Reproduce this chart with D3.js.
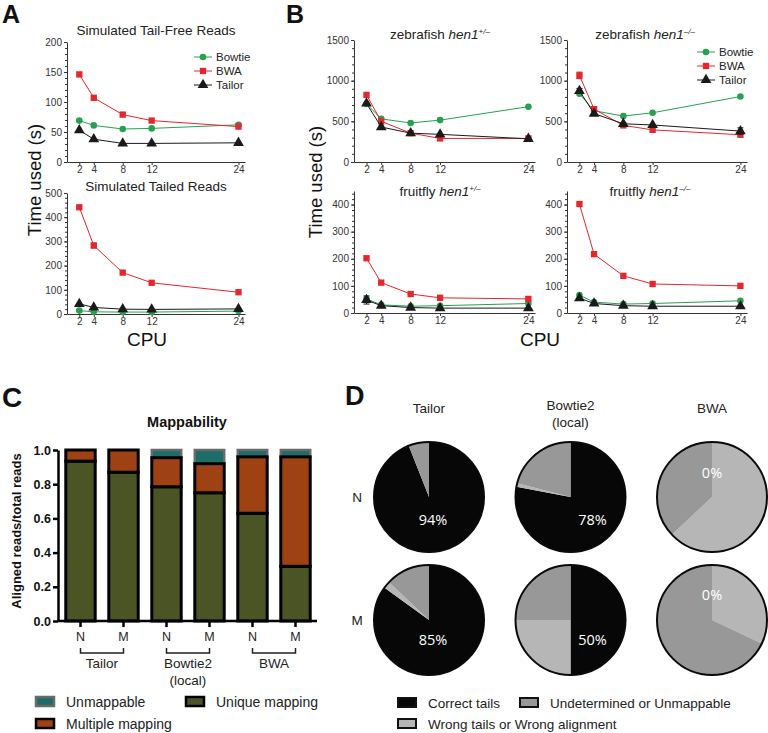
<!DOCTYPE html>
<html><head><meta charset="utf-8">
<script src="https://cdn.jsdelivr.net/npm/d3@7"></script>
<style>body{margin:0;background:#fff} svg{display:block;font-family:"Liberation Sans",Arial,Helvetica,sans-serif}</style>
</head><body><svg width="768" height="733"></svg>
<script>
// ---------------- DATA ----------------
const cpus = [2, 4, 8, 12, 24];
const lineTools = ["Bowtie", "BWA", "Tailor"];
// Panel A
const tailFreeBowtie = [69, 61, 55, 56, 62];
const tailFreeBWA    = [146, 107, 79, 69, 59];
const tailFreeTailor = [53, 38, 31, 31, 32];
const tailedBowtie   = [14, 9, 8, 8, 12];
const tailedBWA      = [441, 283, 171, 129, 90];
const tailedBWAErr   = [0, 10, 0, 0, 0];
const tailedTailor   = [42, 27, 20, 19, 21];
// Panel B
const zfHetBowtie = [715, 530, 480, 515, 680];
const zfHetBWA    = [825, 500, 355, 290, 290];
const zfHetTailor = [720, 430, 355, 340, 285];
const zfMutBowtie = [840, 630, 565, 605, 805];
const zfMutBWA    = [1065, 650, 450, 395, 335];
const zfMutBWAErr = [40, 0, 0, 0, 0];
const zfMutTailor = [875, 595, 470, 455, 380];
const zfMutTailorErr = [30, 0, 0, 0, 40];
const ffHetBowtie = [52, 30, 25, 27, 35];
const ffHetBWA    = [202, 112, 70, 56, 52];
const ffHetTailor = [48, 27, 20, 18, 18];
const ffHetTailorErr = [15, 0, 0, 0, 0];
const ffMutBowtie = [66, 40, 33, 35, 45];
const ffMutBWA    = [402, 217, 137, 107, 100];
const ffMutTailor = [55, 35, 27, 25, 25];
// Panel C
const mapSamples = ["N", "M", "N", "M", "N", "M"];
const mapGroups = ["Tailor", "Bowtie2", "BWA"];
const uniqueMapping   = [0.935, 0.87, 0.785, 0.75, 0.63, 0.32];
const multipleMapping = [0.065, 0.13, 0.17, 0.17, 0.33, 0.64];
const unmappable      = [0, 0, 0.045, 0.08, 0.04, 0.04];
const mapYTicks = [0, 0.2, 0.4, 0.6, 0.8, 1.0];
// Panel D (order: Tailor N, Bowtie2 N, BWA N, Tailor M, Bowtie2 M, BWA M)
const pieColumns = ["Tailor", "Bowtie2", "BWA"];
const pieRows = ["N", "M"];
const correctTails = [0.94, 0.78, 0, 0.85, 0.50, 0];
const wrongTails   = [0, 0.01, 0.63, 0.02, 0.25, 0.32];
const undetermined = [0.06, 0.21, 0.37, 0.13, 0.25, 0.68];
const pctLabels = ["94%", "78%", "0%", "85%", "50%", "0%"];

// ---------------- DRAW ----------------
const svg = d3.select("svg");
const seriesStyle = {
  Bowtie: {color: "#27a04f", symbol: d3.symbolCircle, size: 34},
  BWA:    {color: "#e5262d", symbol: d3.symbolSquare, size: 40},
  Tailor: {color: "#1a1a1a", symbol: d3.symbolTriangle, size: 50}
};

function panelLetter(t, x, y, size) {
  svg.append("text").attr("x", x).attr("y", y).attr("font-size", size)
    .attr("font-weight", "bold").attr("fill", "#111").text(t);
}

function styleAxis(a) {
  a.selectAll("path,line").attr("stroke", "#333").attr("stroke-width", 1);
  a.selectAll("text").attr("font-size", 10).attr("fill", "#333")
    .attr("font-family", '"Liberation Sans", Arial, sans-serif');
}

function lineChart(cfg) {
  const g = svg.append("g");
  const x = d3.scaleLinear().domain([0.3, 24.9]).range(cfg.xr);
  const y = d3.scaleLinear().domain([0, cfg.ymax]).range(cfg.yr);
  const minor = d3.range(0, cfg.ymax + 1e-6, cfg.minor);
  const mi = g.append("g").attr("transform", `translate(${cfg.xr[0]},0)`)
    .call(d3.axisLeft(y).tickValues(minor).tickSize(2).tickFormat(""));
  mi.select(".domain").remove();
  styleAxis(mi);
  const ya = g.append("g").attr("transform", `translate(${cfg.xr[0]},0)`)
    .call(d3.axisLeft(y).tickValues(cfg.yticks).tickFormat(d3.format("d")).tickSize(3).tickPadding(2).tickSizeOuter(0));
  styleAxis(ya);
  const xa = g.append("g").attr("transform", `translate(0,${cfg.yr[0]})`)
    .call(d3.axisBottom(x).tickValues(cpus).tickSize(3).tickPadding(1).tickSizeOuter(0));
  styleAxis(xa);

  cfg.series.forEach(s => {
    const st = seriesStyle[s.name];
    const pts = cpus.map((c, i) => ({c, v: s.values[i], e: s.err ? s.err[i] : 0}));
    g.append("path").datum(pts)
      .attr("d", d3.line().x(d => x(d.c)).y(d => y(d.v)))
      .attr("fill", "none").attr("stroke", st.color).attr("stroke-width", 1);
    const eb = pts.filter(d => d.e > 0);
    g.selectAll(null).data(eb).join("path")
      .attr("d", d => `M${x(d.c)},${y(d.v - d.e)}V${y(d.v + d.e)}M${x(d.c) - 3},${y(d.v + d.e)}h6M${x(d.c) - 3},${y(d.v - d.e)}h6`)
      .attr("stroke", st.color).attr("stroke-width", 1).attr("fill", "none");
    g.selectAll(null).data(pts).join("path")
      .attr("transform", d => `translate(${x(d.c)},${y(d.v)})`)
      .attr("d", d3.symbol(st.symbol, st.size)())
      .attr("fill", st.color);
  });

  const t = g.append("text").attr("x", cfg.titleX).attr("y", cfg.titleY)
    .attr("text-anchor", "middle").attr("font-size", cfg.titleSize || 13.5).attr("fill", "#222");
  t.append("tspan").text(cfg.title);
  if (cfg.italic) {
    t.append("tspan").attr("font-style", "italic").text(cfg.italic);
    t.append("tspan").attr("font-style", "italic").attr("font-size", 8).attr("dy", -5).text(cfg.sup);
  }
}

function lineLegend(x0, y0, step) {
  const g = svg.append("g");
  lineTools.forEach((name, i) => {
    const st = seriesStyle[name];
    const yy = y0 + i * step;
    g.append("line").attr("x1", x0).attr("x2", x0 + 18).attr("y1", yy).attr("y2", yy)
      .attr("stroke", st.color).attr("stroke-width", 1);
    g.append("path").attr("transform", `translate(${x0 + 9},${yy})`)
      .attr("d", d3.symbol(st.symbol, st.size)()).attr("fill", st.color);
    g.append("text").attr("x", x0 + 22).attr("y", yy + 4).attr("font-size", 11.5)
      .attr("fill", "#222").text(name);
  });
}

function rotLabel(text, x, y, size, bold) {
  svg.append("text").attr("transform", `translate(${x},${y}) rotate(-90)`)
    .attr("text-anchor", "middle").attr("font-size", size)
    .attr("font-weight", bold ? "bold" : "normal").attr("fill", "#111").text(text);
}

// ---- Panel A ----
panelLetter("A", 2, 23, 25);
lineChart({xr: [67, 245], yr: [162, 42], ymax: 200, yticks: [0, 50, 100, 150, 200], minor: 10,
  title: "Simulated Tail-Free Reads", titleX: 156, titleY: 35,
  series: [{name: "Bowtie", values: tailFreeBowtie}, {name: "BWA", values: tailFreeBWA}, {name: "Tailor", values: tailFreeTailor}]});
lineLegend(194, 57, 14);
lineChart({xr: [67, 245], yr: [314, 193], ymax: 500, yticks: [0, 100, 200, 300, 400, 500], minor: 20,
  title: "Simulated Tailed Reads", titleX: 156, titleY: 191,
  series: [{name: "Bowtie", values: tailedBowtie}, {name: "BWA", values: tailedBWA, err: tailedBWAErr}, {name: "Tailor", values: tailedTailor}]});
rotLabel("Time used (s)", 41, 180, 18.5);
svg.append("text").attr("x", 147).attr("y", 346).attr("text-anchor", "middle").attr("font-size", 19).attr("fill", "#111").text("CPU");

// ---- Panel B ----
panelLetter("B", 286, 23, 25);
lineChart({xr: [354, 535], yr: [162, 40], ymax: 1500, yticks: [0, 500, 1000, 1500], minor: 100,
  title: "zebrafish ", italic: "hen1", sup: "+/\u2013", titleX: 440, titleY: 39,
  series: [{name: "Bowtie", values: zfHetBowtie}, {name: "BWA", values: zfHetBWA}, {name: "Tailor", values: zfHetTailor}]});
lineChart({xr: [567, 747], yr: [162, 40], ymax: 1500, yticks: [0, 500, 1000, 1500], minor: 100,
  title: "zebrafish ", italic: "hen1", sup: "\u2013/\u2013", titleX: 645, titleY: 39,
  series: [{name: "Bowtie", values: zfMutBowtie}, {name: "BWA", values: zfMutBWA, err: zfMutBWAErr}, {name: "Tailor", values: zfMutTailor, err: zfMutTailorErr}]});
lineLegend(697, 52, 14);
lineChart({xr: [354, 535], yr: [313, 191], ymax: 450, yticks: [0, 100, 200, 300, 400], minor: 20,
  title: "fruitfly ", italic: "hen1", sup: "+/\u2013", titleX: 440, titleY: 196,
  series: [{name: "Bowtie", values: ffHetBowtie}, {name: "BWA", values: ffHetBWA}, {name: "Tailor", values: ffHetTailor, err: ffHetTailorErr}]});
lineChart({xr: [567, 747], yr: [313, 191], ymax: 450, yticks: [0, 100, 200, 300, 400], minor: 20,
  title: "fruitfly ", italic: "hen1", sup: "\u2013/\u2013", titleX: 650, titleY: 196,
  series: [{name: "Bowtie", values: ffMutBowtie}, {name: "BWA", values: ffMutBWA}, {name: "Tailor", values: ffMutTailor}]});
rotLabel("Time used (s)", 322, 182, 18.5);
svg.append("text").attr("x", 540).attr("y", 346).attr("text-anchor", "middle").attr("font-size", 19).attr("fill", "#111").text("CPU");

// ---- Panel C ----
panelLetter("C", 2, 407, 28);
const cColors = {unique: "#4b5424", multiple: "#9e4214", unmappable: "#1b6e69"};
const xb = d3.scaleBand().domain(d3.range(6)).range([59, 317]).paddingInner(0.26).paddingOuter(0.13);
const yb = d3.scaleLinear().domain([0, 1]).range([621, 450]);
const cRows = mapSamples.map((s, i) => ({i, unique: uniqueMapping[i], multiple: multipleMapping[i], unmappable: unmappable[i]}));
const stacked = d3.stack().keys(["unique", "multiple", "unmappable"])(cRows);
const gc = svg.append("g");
const drawOrder = [2, 0, 1];
drawOrder.forEach(k => {
  const layer = stacked[k];
  const key = layer.key;
  gc.selectAll(null).data(layer.filter(d => d[1] - d[0] > 0)).join("rect")
    .attr("x", d => xb(d.data.i) + 1.2).attr("width", xb.bandwidth() - 2.4)
    .attr("y", d => yb(d[1])).attr("height", d => yb(d[0]) - yb(d[1]))
    .attr("fill", cColors[key])
    .attr("stroke", key === "unmappable" ? "#6a6a6a" : "#000")
    .attr("stroke-width", key === "unmappable" ? 2.5 : 3);
});
const yAxC = gc.append("g").attr("transform", "translate(58,0)")
  .call(d3.axisLeft(yb).tickValues(mapYTicks).tickFormat(d3.format(".1f")).tickSize(5).tickPadding(2).tickSizeOuter(0));
yAxC.selectAll("path,line").attr("stroke", "#000").attr("stroke-width", 2.5);
yAxC.selectAll("text").attr("font-size", 12.5).attr("font-weight", "bold").attr("fill", "#111");
const xAxC = gc.append("g").attr("transform", "translate(0,621)")
  .call(d3.axisBottom(xb).tickFormat(i => mapSamples[i]).tickSize(6).tickPadding(5).tickSizeOuter(0));
xAxC.select(".domain").attr("d", "M57,0H317");
xAxC.selectAll("path,line").attr("stroke", "#000").attr("stroke-width", 2.5);
xAxC.selectAll("text").attr("font-size", 12.5).attr("fill", "#222");
mapGroups.forEach((grp, gi) => {
  const xa = xb(gi * 2) + xb.bandwidth() / 2, xm = xb(gi * 2 + 1) + xb.bandwidth() / 2;
  gc.append("path").attr("d", `M${xa},648V653H${xm}V648`).attr("fill", "none").attr("stroke", "#222").attr("stroke-width", 1.5);
  gc.append("text").attr("x", (xa + xm) / 2).attr("y", 668).attr("text-anchor", "middle")
    .attr("font-size", 13.5).attr("fill", "#222").text(grp);
  if (grp === "Bowtie2") gc.append("text").attr("x", (xa + xm) / 2).attr("y", 685).attr("text-anchor", "middle")
    .attr("font-size", 13.5).attr("fill", "#222").text("(local)");
});
gc.append("text").attr("x", 187).attr("y", 427).attr("text-anchor", "middle").attr("font-size", 14.5)
  .attr("font-weight", "bold").attr("fill", "#111").text("Mappability");
rotLabel("Aligned reads/total reads", 21, 531, 13, true);
// legend C
[{k: "unmappable", label: "Unmappable", x: 36, y: 697},
 {k: "unique", label: "Unique mapping", x: 186, y: 697},
 {k: "multiple", label: "Multiple mapping", x: 36, y: 719}].forEach(e => {
  gc.append("rect").attr("x", e.x).attr("y", e.y).attr("width", 18).attr("height", 9)
    .attr("fill", cColors[e.k]).attr("stroke", e.k === "unmappable" ? "#6a6a6a" : "#000").attr("stroke-width", 2.5);
  gc.append("text").attr("x", e.x + 30).attr("y", e.y + 10).attr("font-size", 14).attr("fill", "#222").text(e.label);
});

// ---- Panel D ----
panelLetter("D", 345, 405, 27);
const gd = svg.append("g");
const colX = d3.scalePoint().domain(pieColumns).range([429, 712]);
const rowY = d3.scalePoint().domain(pieRows).range([497, 620]);
const pieColors = {correct: "#070707", wrong: "#b6b6b6", undet: "#989898"};
const pieR = 55;
const pie = d3.pie().sort(null).value(d => d.v);
const arc = d3.arc().innerRadius(0).outerRadius(pieR);
// label offsets (layout) relative to pie centers
const pctOffsets = [[4, 23], [22, 23], [0, -24], [4, 20], [22, 20], [0, -25]];
pieRows.forEach((row, ri) => {
  pieColumns.forEach((col, ci) => {
    const idx = ri * 3 + ci;
    const cx = colX(col), cy = rowY(row);
    const slices = [{k: "correct", v: correctTails[idx]}, {k: "wrong", v: wrongTails[idx]}, {k: "undet", v: undetermined[idx]}];
    const pg = gd.append("g").attr("transform", `translate(${cx},${cy})`);
    pg.selectAll(null).data(pie(slices)).join("path").attr("d", arc).attr("fill", d => pieColors[d.data.k]);
    pg.append("circle").attr("r", pieR).attr("fill", "none").attr("stroke", "#0a0a0a").attr("stroke-width", 2);
    pg.append("text").attr("x", pctOffsets[idx][0]).attr("y", pctOffsets[idx][1]).attr("dy", "0.35em")
      .attr("text-anchor", "middle").attr("font-size", 14.5).attr("fill", "#fff")
      .attr("font-family", '"Open Sans", "Noto Sans", sans-serif').text(pctLabels[idx]);
  });
});
pieColumns.forEach(col => {
  gd.append("text").attr("x", colX(col)).attr("y", col === "Bowtie2" ? 410 : 413).attr("text-anchor", "middle")
    .attr("font-size", 13.5).attr("fill", "#222").text(col);
  if (col === "Bowtie2") gd.append("text").attr("x", colX(col)).attr("y", 427).attr("text-anchor", "middle")
    .attr("font-size", 13.5).attr("fill", "#222").text("(local)");
});
pieRows.forEach(row => {
  gd.append("text").attr("x", 357).attr("y", rowY(row) + 5).attr("text-anchor", "middle")
    .attr("font-size", 13.5).attr("fill", "#222").text(row);
});
[{k: "correct", label: "Correct tails", x: 398, y: 698},
 {k: "undet", label: "Undetermined or Unmappable", x: 520, y: 698},
 {k: "wrong", label: "Wrong tails or Wrong alignment", x: 398, y: 719}].forEach(e => {
  gd.append("rect").attr("x", e.x).attr("y", e.y).attr("width", 18).attr("height", 9)
    .attr("fill", pieColors[e.k]).attr("stroke", "#111").attr("stroke-width", 2);
  gd.append("text").attr("x", e.x + 30).attr("y", e.y + 10).attr("font-size", 13.5).attr("fill", "#222").text(e.label);
});
</script>
</body></html>
